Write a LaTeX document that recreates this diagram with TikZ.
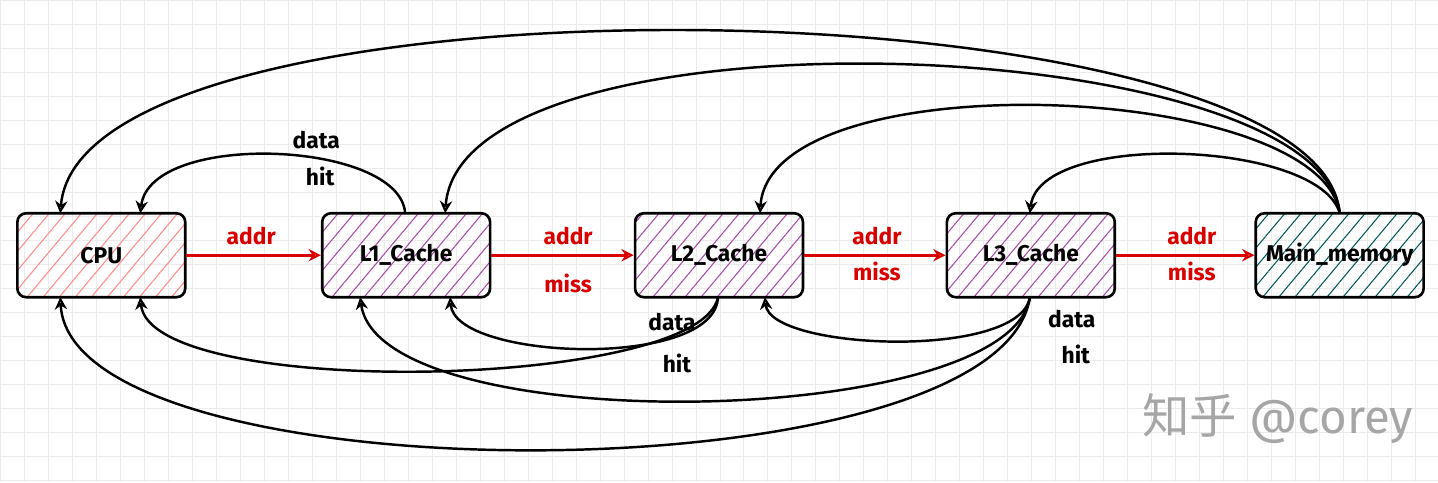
\documentclass[tikz,border=0pt]{standalone}
\usepackage{fontspec}
\setmainfont{Fira Sans}
\newfontfamily\cjk{Noto Sans CJK SC}
\usetikzlibrary{patterns.meta,arrows.meta}
\begin{document}
\begin{tikzpicture}[x=0.02cm,y=-0.02cm,
  boxn/.style={draw=black,line width=1.5pt,rounded corners=5pt,minimum width=3.36cm,minimum height=1.68cm},
  lab/.style={font=\fontsize{13}{13}\selectfont\bfseries},
  blk/.style={-{Stealth[open,length=7pt,width=7pt]},line width=1.4pt},
  redarr/.style={-{Stealth[open,length=7pt,width=7pt]},line width=1.6pt,draw=red!85!black},
  rl/.style={text=red!85!black,font=\fontsize{13}{13}\selectfont\bfseries},
  bl/.style={font=\fontsize{13}{13}\selectfont\bfseries}]
\fill[white] (0,0) rectangle (1438,482);
\draw[black!8,line width=0.4pt] (0,0) grid[step=0.48cm] (1438,482);
\useasboundingbox (0,0) rectangle (1438,482);
\node[boxn,pattern={Lines[angle=50,distance=7pt,line width=0.6pt]},pattern color=red!45] (cpu) at (101,255) {};
\node[boxn,pattern={Lines[angle=50,distance=7pt,line width=0.6pt]},pattern color=violet!70] (l1) at (406,255) {};
\node[boxn,pattern={Lines[angle=50,distance=7pt,line width=0.6pt]},pattern color=violet!70] (l2) at (719,255) {};
\node[boxn,pattern={Lines[angle=50,distance=7pt,line width=0.6pt]},pattern color=violet!70] (l3) at (1031,255) {};
\node[boxn,pattern={Lines[angle=50,distance=7pt,line width=0.6pt]},pattern color=teal!70!black] (mm) at (1340,255) {};
\node[lab] at (cpu) {CPU};
\node[lab] at (l1) {L1\_Cache};
\node[lab] at (l2) {L2\_Cache};
\node[lab] at (l3) {L3\_Cache};
\node[lab] at (mm) {Main\_memory};
% red
\draw[redarr] (cpu.east) -- (l1.west);
\draw[redarr] (l1.east) -- (l2.west);
\draw[redarr] (l2.east) -- (l3.west);
\draw[redarr] (l3.east) -- (mm.west);
\node[rl] (a1) at (251,236) {addr};
\node[rl] (a2) at (568,236) {addr};
\node[rl] (m2) at (568,283) {miss};
\node[rl] (a3) at (877,236) {addr};
\node[rl] (m3) at (877,271) {miss};
\node[rl] (a4) at (1192,236) {addr};
\node[rl] (m4) at (1192,271) {miss};
% top arcs
\coordinate (mt) at (1340,213);
\draw[blk] (mt) .. controls (1320,-20) and (80,-40) .. (60,213);
\draw[blk] (mt) .. controls (1320,30) and (460,0) .. (445,213);
\draw[blk] (mt) .. controls (1320,80) and (770,60) .. (760,213);
\draw[blk] (mt) .. controls (1320,140) and (1040,130) .. (1030,213);
\draw[blk] (405,213) .. controls (400,140) and (150,130) .. (140,213);
% bottom arcs
\draw[blk] (718,297) .. controls (715,370) and (455,360) .. (450,297);
\draw[blk] (718,297) .. controls (700,390) and (150,400) .. (140,297);
\draw[blk] (1030,297) .. controls (1020,360) and (770,350) .. (765,297);
\draw[blk] (1030,297) .. controls (1010,430) and (380,440) .. (360,297);
\draw[blk] (1030,297) .. controls (1000,500) and (70,500) .. (60,297);
\node[bl] at (316,140) {data};
\node[bl] at (320,176) {hit};
\node[bl] at (672,322) {data};
\node[bl] at (677,363) {hit};
\node[bl] at (1072,319) {data};
\node[bl] at (1076,354) {hit};
\node[text=black!35,font=\fontsize{27}{27}\selectfont] at (1278,418) {{\cjk 知乎} @corey};
\end{tikzpicture}
\end{document}
